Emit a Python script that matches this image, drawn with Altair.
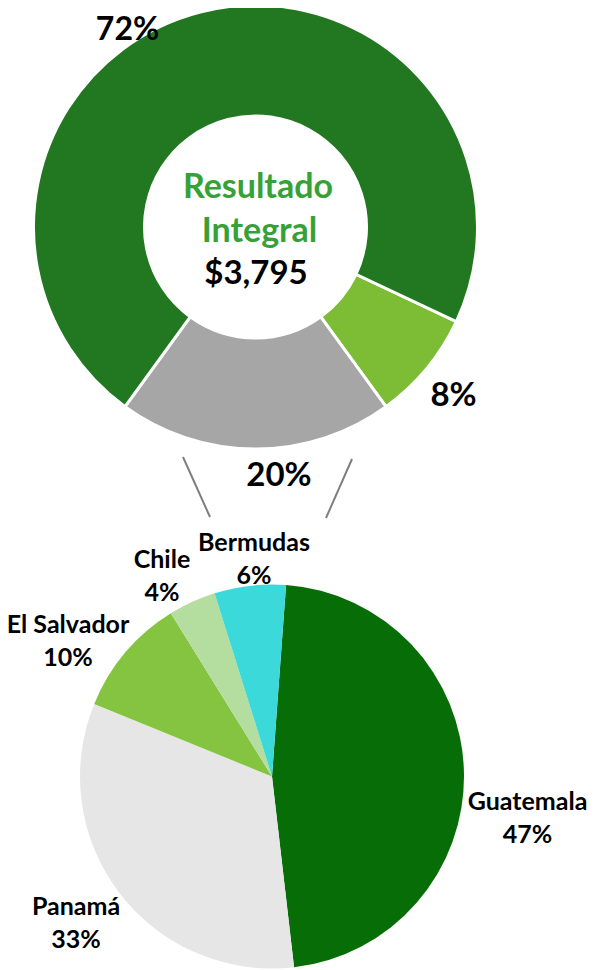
import math
import altair as alt
import pandas as pd

# ---- data ----
donut_segments = ["Otros", "Internacional", "Principal"]
donut_values = [8, 20, 72]
donut_colors = ["#7cbd35", "#a6a6a6", "#217821"]

countries = ["Guatemala", "Panamá", "El Salvador", "Chile", "Bermudas"]
country_values = [47, 33, 10, 4, 6]
country_colors = ["#076e07", "#e6e6e6", "#84c441", "#b3dea0", "#3bd9d9"]

center_title = ["Resultado", "Integral"]
center_total = "$3,795"

FONT = "Lato"

donut_df = pd.DataFrame({"seg": donut_segments, "pct": donut_values,
                         "ord": list(range(len(donut_segments)))})
pie_df = pd.DataFrame({"pais": countries, "pct": country_values,
                       "ord": list(range(len(countries)))})

d_start = math.radians(115.2)
p_start = math.radians(4.2)

donut = alt.Chart(donut_df).mark_arc(
    outerRadius=222, innerRadius=111, stroke="white", strokeWidth=3
).encode(
    theta=alt.Theta("pct:Q", stack=True,
                    scale=alt.Scale(range=[d_start, d_start + 2 * math.pi])),
    color=alt.Color("seg:N", scale=alt.Scale(domain=donut_segments, range=donut_colors),
                    legend=None),
    order=alt.Order("ord:Q"),
    x=alt.value(247.5),
    y=alt.value(219),
)

pie = alt.Chart(pie_df).mark_arc(outerRadius=192).encode(
    theta=alt.Theta("pct:Q", stack=True,
                    scale=alt.Scale(range=[p_start, p_start + 2 * math.pi])),
    color=alt.Color("pais:N", scale=alt.Scale(domain=countries, range=country_colors),
                    legend=None),
    order=alt.Order("ord:Q"),
    x=alt.value(264),
    y=alt.value(768.5),
)

base = alt.Chart(pd.DataFrame({"k": [0]}))


def rule(x1, y1, x2, y2):
    return base.mark_rule(color="#7f7f7f", strokeWidth=2).encode(
        x=alt.value(x1), y=alt.value(y1), x2=alt.value(x2), y2=alt.value(y2))


def txt(s, x, y, size, color="black"):
    return base.mark_text(text=s, font=FONT, fontWeight="bold", fontSize=size,
                          color=color, align="center", baseline="alphabetic").encode(
        x=alt.value(x), y=alt.value(y))


layers = [donut, pie,
          rule(175, 449, 202, 509), rule(344, 451, 318, 510)]

# donut labels
layers += [txt(f"{donut_values[2]}%", 119.5, 32, 32),
           txt(f"{donut_values[0]}%", 445.5, 398, 33),
           txt(f"{donut_values[1]}%", 271, 478, 33)]
# center
layers += [txt(center_title[0], 250, 190, 34, "#36a136"),
           txt(center_title[1], 251.5, 234, 34, "#36a136"),
           txt(center_total, 248, 276, 33)]

# pie labels
pie_pos = {"Guatemala": (519.5, 802), "Panamá": (68, 907), "El Salvador": (60, 625),
           "Chile": (154, 560), "Bermudas": (246, 543)}
for name, val in zip(countries, country_values):
    px, py = pie_pos[name]
    layers += [txt(name, px, py, 25), txt(f"{val}%", px, py + 33, 25)]

chart = alt.layer(*layers).resolve_scale(theta="independent", color="independent").properties(
    width=599, height=962, padding=0, autosize=alt.AutoSizeParams(type="none")
).configure_view(stroke=None)

chart.save("out.html", embed_options={"renderer": "svg", "actions": False})
